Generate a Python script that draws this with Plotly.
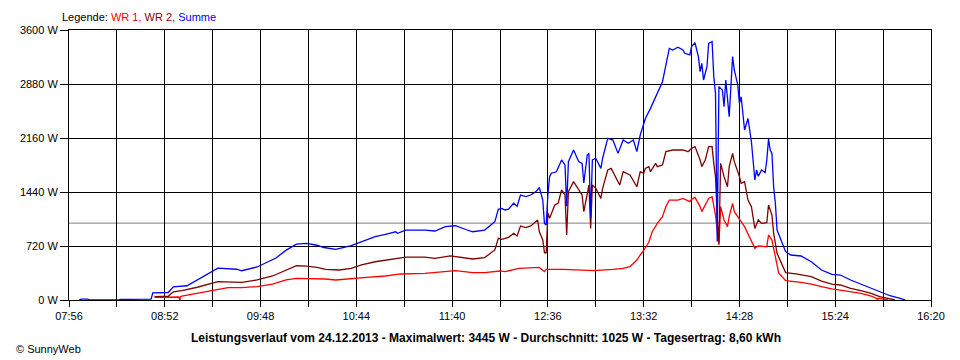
import plotly.graph_objects as go

DAY = "2013-12-24"

# Summe (blue)
SUMME_T = ["08:02","08:03","08:07","08:08","08:25","08:26","08:44","08:45","08:54","08:57",
           "09:05","09:14","09:19","09:23","09:34","09:37","09:46","09:52","09:57","10:03",
           "10:09","10:15","10:21","10:25","10:32","10:41","10:50","10:55","11:01","11:07",
           "11:08","11:13","11:24","11:30","11:36","11:42","11:48","11:52","11:59","12:05",
           "12:07","12:09","12:11","12:13","12:16","12:18","12:20","12:23","12:26","12:29",
           "12:31","12:33","12:34","12:35","12:36","12:37","12:38","12:41","12:44","12:46",
           "12:47","12:48","12:51","12:54","12:56","12:57","12:59","13:00","13:01","13:02",
           "13:04","13:07","13:08","13:11","13:14","13:17","13:20","13:23","13:26","13:28",
           "13:30","13:32","13:33","13:36","13:39","13:40","13:42","13:43","13:44","13:45",
           "13:46","13:47","13:49","13:52","13:55","13:56","13:59","14:00","14:02","14:04",
           "14:05","14:06","14:07","14:09","14:10","14:12","14:13","14:14","14:15","14:16",
           "14:18","14:19","14:20","14:22","14:24","14:25","14:27","14:28","14:29","14:31",
           "14:33","14:35","14:37","14:38","14:39","14:41","14:43","14:44","14:45","14:46",
           "14:47","14:48","14:49","14:50","14:53","14:55","14:58","15:04","15:10","15:16",
           "15:22","15:27","15:33","15:39","15:45","15:50","15:56","16:02","16:05"]
SUMME_W = [0,12,12,0,0,8,12,95,100,175,
           190,310,380,425,410,390,440,505,560,665,
           745,755,730,700,675,725,800,845,875,910,
           890,933,933,920,978,990,940,910,933,1045,
           1210,1220,1200,1210,1290,1250,1400,1380,1400,1445,
           1500,1333,1020,1000,1400,1645,1690,1710,1867,1800,
           1250,1845,2000,1845,1820,1560,1933,1955,1100,1867,
           1890,1755,1890,2155,2133,1955,2133,2090,2133,1978,
           2200,2333,2420,2555,2710,2755,2867,2910,3022,3155,
           3245,3355,3333,3370,3333,3290,3267,3378,3430,3245,
           3045,3155,2933,3110,3422,3445,2978,2755,780,2845,
           2800,2577,2933,2445,3245,3067,2867,2622,2710,2267,
           2420,2110,1600,1733,1650,1733,1700,1867,2145,2000,
           1955,1510,1290,933,755,645,600,587,510,400,
           342,333,267,213,155,110,57,22,0]

# WR 2 (dark red)
WR2_T = ["08:46","08:54","08:57","09:02","09:11","09:20","09:23","09:37","09:46","09:55",
         "10:03","10:09","10:15","10:18","10:21","10:26","10:34","10:41","10:47","10:55",
         "11:01","11:07","11:13","11:24","11:30","11:39","11:48","11:52","11:59","12:05",
         "12:07","12:09","12:11","12:13","12:16","12:18","12:20","12:23","12:26","12:30",
         "12:31","12:33","12:34","12:35","12:36","12:37","12:40","12:42","12:44","12:46",
         "12:47","12:48","12:51","12:54","12:56","12:57","13:00","13:01","13:02","13:04",
         "13:07","13:08","13:11","13:13","13:15","13:18","13:20","13:24","13:28","13:30",
         "13:32","13:33","13:35","13:36","13:39","13:40","13:43","13:45","13:49","13:55",
         "13:58","14:00","14:02","14:05","14:06","14:08","14:10","14:12","14:13","14:14",
         "14:15","14:16","14:17","14:19","14:21","14:22","14:24","14:25","14:28","14:29",
         "14:31","14:33","14:35","14:37","14:39","14:41","14:44","14:45","14:47","14:48",
         "14:50","14:53","14:55","15:01","15:10","15:16","15:22","15:27","15:33","15:39",
         "15:45","15:50","15:56","15:59"]
WR2_W = [45,50,110,125,170,230,245,235,267,320,
         400,457,453,445,435,408,400,422,467,510,
         533,555,573,573,555,587,565,547,565,667,
         822,808,822,835,890,853,987,965,987,1067,
         910,800,630,630,1160,1090,1267,1290,1467,1400,
         867,1445,1578,1467,1400,1178,1533,955,1533,1489,
         1355,1489,1733,1755,1667,1533,1711,1667,1510,1711,
         1689,1755,1778,1711,1822,1778,1800,1978,2000,2000,
         1978,2022,2045,1867,1778,1867,2044,2044,1822,1645,
         1110,755,1822,1645,1510,1778,1955,1845,1645,1555,
         1578,1333,1245,955,1067,1022,1030,1267,1133,889,
         622,470,365,347,311,253,213,200,155,125,
         89,45,13,0]

# WR 1 (red)
WR1_T = ["08:46","09:00","09:01","09:01","09:02","09:11","09:23","09:29","09:37","09:46",
         "09:55","10:03","10:09","10:18","10:26","10:32","10:41","10:50","11:01","11:10",
         "11:24","11:42","11:52","11:59","12:08","12:11","12:19","12:31","12:34","12:35",
         "12:45","12:57","13:03","13:14","13:20","13:24","13:28","13:30","13:32","13:35",
         "13:37","13:40","13:43","13:45","13:47","13:52","13:55","13:59","14:00","14:02",
         "14:05","14:06","14:08","14:10","14:12","14:13","14:14","14:16","14:17","14:19",
         "14:21","14:22","14:24","14:25","14:28","14:29","14:31","14:33","14:35","14:37",
         "14:39","14:44","14:45","14:47","14:49","14:50","14:51","14:53","14:55","15:04",
         "15:10","15:16","15:22","15:27","15:33","15:39","15:45","15:48","15:49","15:49",
         "15:50","15:55"]
WR1_W = [35,40,0,40,53,89,142,165,165,178,
         213,267,289,285,280,267,280,302,320,347,
         355,391,365,365,387,378,422,435,378,408,
         408,400,391,408,422,445,533,600,660,770,
         911,1022,1111,1245,1333,1333,1355,1311,1343,1369,
         1245,1178,1267,1355,1378,1267,1133,733,1245,1067,
         978,1111,1289,1178,1067,1045,978,889,778,689,
         720,711,867,800,578,445,355,311,258,235,
         213,178,147,133,111,89,53,22,0,22,
         22,0]

AVERAGE_W = 1025
X_START, X_END = "07:56", "16:20"
Y_MAX, Y_STEP = 3600, 720

FONT = "Liberation Sans, Arial, sans-serif"


def ts(times):
    return [f"{DAY} {t}" for t in times]


fig = go.Figure()
fig.add_trace(go.Scatter(x=ts(WR1_T), y=WR1_W, mode="lines", name="WR 1",
                         line=dict(color="#FF0000", width=1.3)))
fig.add_trace(go.Scatter(x=ts(WR2_T), y=WR2_W, mode="lines", name="WR 2",
                         line=dict(color="#800000", width=1.3)))
fig.add_trace(go.Scatter(x=ts(SUMME_T), y=SUMME_W, mode="lines", name="Summe",
                         line=dict(color="#0000FF", width=1.3)))

fig.add_shape(type="line", xref="paper", x0=0, x1=1, yref="y", y0=AVERAGE_W, y1=AVERAGE_W,
              line=dict(color="#808080", width=1), layer="between")

fig.update_xaxes(
    type="date",
    range=[f"{DAY} {X_START}", f"{DAY} {X_END}"],
    tick0=f"{DAY} {X_START}", dtick=56 * 60000, tickformat="%H:%M",
    ticks="outside", ticklen=6, tickcolor="black", tickwidth=1,
    showgrid=True, gridcolor="black", gridwidth=1,
    minor=dict(dtick=28 * 60000, tick0=f"{DAY} {X_START}", showgrid=True,
               gridcolor="black", gridwidth=1, ticks="outside", ticklen=6,
               tickcolor="black"),
    showline=True, linecolor="black", linewidth=1, mirror=True,
    zeroline=False,
    tickfont=dict(family=FONT, size=11, color="black"),
)
fig.update_yaxes(
    range=[0, Y_MAX], tick0=0, dtick=Y_STEP, tickformat="d", ticksuffix=" W",
    ticks="outside", ticklen=8, tickcolor="black", tickwidth=1,
    showgrid=True, gridcolor="black", gridwidth=1,
    showline=True, linecolor="black", linewidth=1, mirror=True,
    zeroline=False,
    tickfont=dict(family=FONT, size=11, color="black"),
)

# the page body adds an 8 px offset, so the figure is 8 px smaller and shifted
FIG_W, FIG_H = 952, 352
M_L, M_R, M_T, M_B = 52, 29, 22, 60
plot_w = FIG_W - M_L - M_R
plot_h = FIG_H - M_T - M_B

fig.add_annotation(
    xref="paper", yref="paper", x=-9 / plot_w, y=1 + 13 / plot_h,
    xanchor="left", yanchor="middle", showarrow=False,
    text=("Legende: <span style='color:#FF0000'>WR 1,</span> "
          "<span style='color:#800000'>WR 2,</span> "
          "<span style='color:#0000FF'>Summe</span>"),
    font=dict(family=FONT, size=11, color="black"),
)
fig.add_annotation(
    xref="paper", yref="paper", x=(481 - 60) / plot_w, y=-38 / plot_h,
    xanchor="center", yanchor="middle", showarrow=False,
    text=("<b>Leistungsverlauf vom 24.12.2013 - Maximalwert: 3445 W - "
          "Durchschnitt: 1025 W - Tagesertrag: 8,60 kWh</b>"),
    font=dict(family=FONT, size=12, color="black"),
)
fig.add_annotation(
    xref="paper", yref="paper", x=(4 - 60) / plot_w, y=-49 / plot_h,
    xanchor="left", yanchor="middle", showarrow=False,
    text="© SunnyWeb",
    font=dict(family=FONT, size=11, color="black"),
)

fig.update_layout(
    width=FIG_W, height=FIG_H, autosize=False,
    margin=dict(l=M_L, r=M_R, t=M_T, b=M_B),
    paper_bgcolor="white", plot_bgcolor="white",
    showlegend=False,
    font=dict(family=FONT, size=11, color="black"),
)

fig.write_html("out.html")
